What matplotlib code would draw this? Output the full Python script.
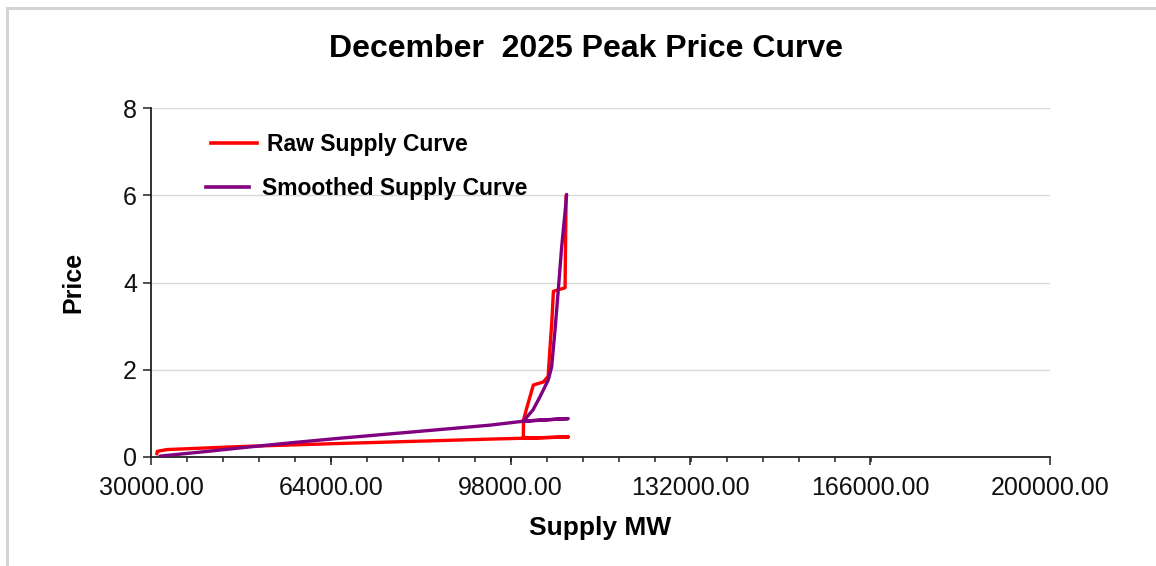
import matplotlib
matplotlib.use("Agg")
import matplotlib.pyplot as plt
from matplotlib.lines import Line2D
import numpy as np

plt.rcParams['font.family'] = ['Liberation Sans', 'DejaVu Sans']

title = "December  2025 Peak Price Curve"
x_label = "Supply MW"
y_label = "Price"
x_ticks = [30000, 64000, 98000, 132000, 166000, 200000]
x_tick_labels = ["30000.00", "64000.00", "98000.00", "132000.00", "166000.00", "200000.00"]
y_ticks = [0, 2, 4, 6, 8]

# Raw supply curve (drawn in data order, as in the source)
raw_mw = [31100, 31200, 33000, 39000, 47000, 65700, 80000, 94100, 100400, 108900,
          100400, 100450, 101000, 102300, 104200, 105100, 105450, 105800, 106100,
          108300, 108500]
raw_price = [0.07, 0.13, 0.17, 0.20, 0.24, 0.31, 0.36, 0.41, 0.43, 0.46,
             0.43, 0.85, 1.10, 1.65, 1.72, 1.85, 2.50, 3.10, 3.80,
             3.88, 6.00]

# Smoothed supply curve
smooth_mw = [31700, 40000, 47000, 56000, 65700, 80000, 94100, 100400, 104000, 108900,
             100400, 102240, 103560, 105130, 105770, 106400, 107020, 107660,
             108290, 108600]
smooth_price = [0.02, 0.12, 0.21, 0.32, 0.43, 0.58, 0.73, 0.82, 0.85, 0.88,
                0.82, 1.08, 1.38, 1.77, 2.07, 2.91, 3.83, 4.82,
                5.60, 6.02]

fig = plt.figure(figsize=(11.56, 5.66), dpi=100)
ax = fig.add_axes([0.1306, 0.1926, 0.9083 - 0.1306, 0.809 - 0.1926])

# frame lines of the panel
fig.add_artist(Line2D([7 / 1156, 7 / 1156], [0, 1 - 8 / 566], color="#d4d4d4", lw=2.2,
                      transform=fig.transFigure))
fig.add_artist(Line2D([7 / 1156, 1], [1 - 8 / 566, 1 - 8 / 566], color="#d4d4d4", lw=2.2,
                      transform=fig.transFigure))

ax.plot(raw_mw, raw_price, color="#ff0000", lw=2.4, solid_joinstyle="round",
        solid_capstyle="round", zorder=3)
ax.plot(smooth_mw, smooth_price, color="#800080", lw=2.4, solid_joinstyle="round",
        solid_capstyle="round", zorder=4)

ax.set_xlim(30000, 200000)
ax.set_ylim(0, 8)
ax.set_xticks(x_ticks)
ax.set_xticklabels(x_tick_labels)
ax.set_xticks(np.linspace(36750, 166100, 20), minor=True)
ax.set_yticks(y_ticks)
ax.set_yticklabels([str(v) for v in y_ticks])

for s in ("top", "right"):
    ax.spines[s].set_visible(False)
for s in ("left", "bottom"):
    ax.spines[s].set_color("#222222")
    ax.spines[s].set_linewidth(1.3)

ax.grid(axis="y", color="#d9d9d9", lw=1.0)
ax.set_axisbelow(True)

ax.tick_params(axis="both", which="major", direction="out", length=6, width=1.1,
               color="#222222", labelsize=18, labelcolor="#111111")
ax.tick_params(axis="x", which="minor", direction="out", length=3.5, width=1.1,
               color="#222222")
ax.tick_params(axis="x", which="major", pad=8)
ax.tick_params(axis="y", which="major", pad=4)

ax.set_title(title, fontsize=23, fontweight="bold", pad=37, x=0.484)
ax.set_xlabel(x_label, fontsize=19, fontweight="bold", labelpad=11)
ax.set_ylabel(y_label, fontsize=18, fontweight="bold", labelpad=27)

h1 = Line2D([], [], color="#ff0000", lw=2.6)
h2 = Line2D([], [], color="#800080", lw=2.6)
leg1 = ax.legend([h1], ["Raw Supply Curve"], loc="center left",
                 bbox_to_anchor=(0.054, 0.895), frameon=False, handlelength=2.0,
                 handletextpad=0.45, borderpad=0, prop={"weight": "bold", "size": 16.5})
ax.add_artist(leg1)
ax.legend([h2], ["Smoothed Supply Curve"], loc="center left",
          bbox_to_anchor=(0.048, 0.77), frameon=False, handlelength=1.9,
          handletextpad=0.55, borderpad=0, prop={"weight": "bold", "size": 16.5})

fig.savefig("out.png", dpi=100, facecolor="white")
